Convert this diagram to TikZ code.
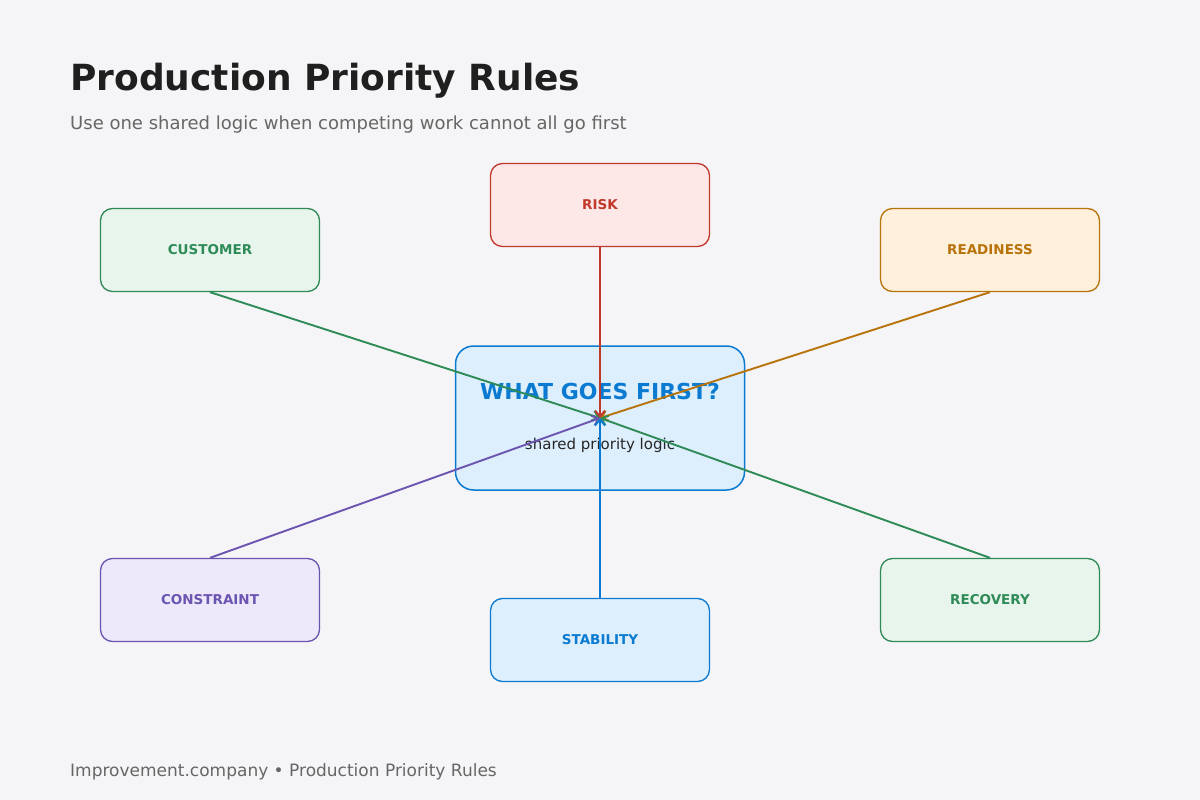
\documentclass[tikz,border=0pt]{standalone}
\usepackage{fontspec}
\setmainfont{DejaVu Sans}
\usetikzlibrary{arrows.meta}
\definecolor{bg}{HTML}{F5F5F7}
\definecolor{gr}{HTML}{2E8B57}\definecolor{grf}{HTML}{E8F5EC}
\definecolor{rd}{HTML}{C0392B}\definecolor{rdf}{HTML}{FDE8E7}
\definecolor{or}{HTML}{B8730A}\definecolor{orf}{HTML}{FFF0DB}
\definecolor{pu}{HTML}{6B55B0}\definecolor{puf}{HTML}{EDE8FA}
\definecolor{bl}{HTML}{0A7BD0}\definecolor{blf}{HTML}{DDEEFD}
\begin{document}
\begin{tikzpicture}[x=1pt,y=-1pt,
 box/.style={draw=#1,fill=#1f,rounded corners=12pt,line width=1.3pt,minimum width=219pt,minimum height=83pt,text=#1,font=\fontsize{13.5}{13.5}\selectfont\bfseries},
 con/.style={draw=#1,line width=1.9pt,-{Straight Barb[length=6pt,width=10pt]}},
 lbl/.style={anchor=base west,inner sep=0pt}]
\fill[bg] (0,0) rectangle (1200,800);
\node[lbl,font=\fontsize{36}{36}\selectfont\bfseries,text=black!88] at (70,90) {Production Priority Rules};
\node[lbl,font=\fontsize{18}{18}\selectfont,text=black!60] at (70,129) {Use one shared logic when competing work cannot all go first};
\node[lbl,font=\fontsize{17}{17}\selectfont,text=black!60] at (70,776) {Improvement.company • Production Priority Rules};
\node[draw=bl,fill=blf,rounded corners=18pt,line width=1.5pt,minimum width=289pt,minimum height=144pt] (c) at (600,418) {};
\node[text=bl,font=\fontsize{22}{22}\selectfont\bfseries] at (600,391) {WHAT GOES FIRST?};
\node[text=black!85,font=\fontsize{15}{15}\selectfont] at (600,445) {shared priority logic};
\coordinate (hub) at (600,418);
\node[box=gr] (cu) at (210,250) {CUSTOMER};
\node[box=rd] (ri) at (600,205) {RISK};
\node[box=or] (re) at (990,250) {READINESS};
\node[box=pu] (co) at (210,600) {CONSTRAINT};
\node[box=bl] (st) at (600,640) {STABILITY};
\node[box=gr] (rc) at (990,600) {RECOVERY};
\draw[con=gr] (cu.south) -- (hub);
\draw[con=or] (re.south) -- (hub);
\draw[con=gr] (rc.north) -- (hub);
\draw[con=pu] (co.north) -- (hub);
\draw[con=bl] (st.north) -- (hub);
\draw[con=rd] (ri.south) -- (hub);
\end{tikzpicture}
\end{document}
